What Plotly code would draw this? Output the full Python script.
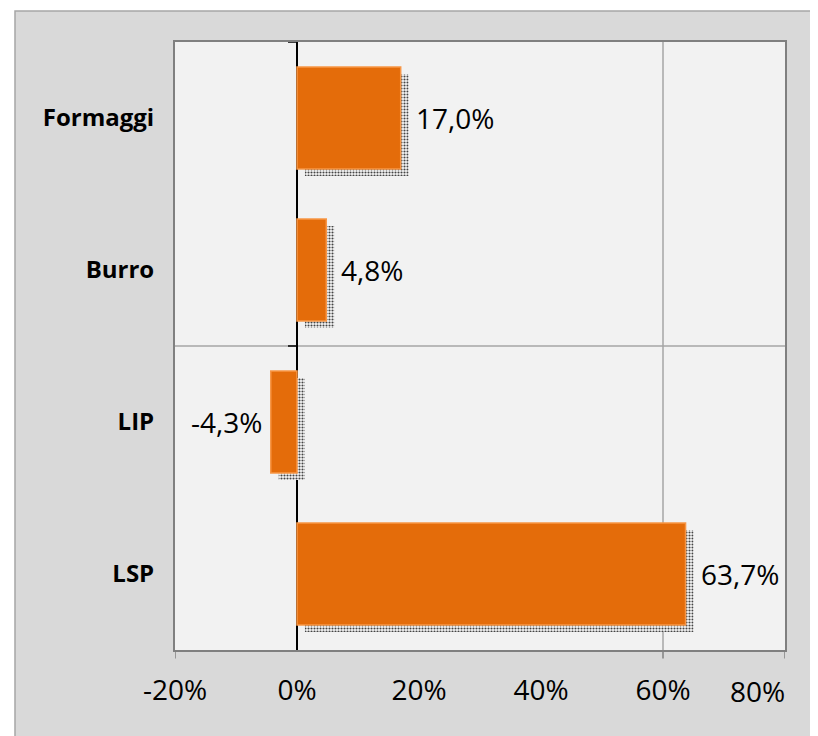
import plotly.graph_objects as go

categories = ["LSP", "LIP", "Burro", "Formaggi"]
values = [63.7, -4.3, 4.8, 17.0]
x_tick_vals = [-20, 0, 20, 40, 60, 80]
x_tick_text = ["-20%", "0%", "20%", "40%", "60%", "80%"]

positions = list(range(len(categories)))

BAR_COLOR = "#e46c0a"
BAR_LINE = "#f79646"
SHADOW_DX = 1.3     # shadow offset along x (data units, ~8 px)
SHADOW_DY = 0.046   # shadow offset along y (category units, ~7 px)
BAR_WIDTH = 0.67
TICK_FONT = dict(family="Open Sans", size=28, color="#000000")

fig = go.Figure()

# drop shadow
fig.add_trace(go.Bar(
    y=[p - SHADOW_DY for p in positions],
    x=values,
    base=[SHADOW_DX] * len(values),
    orientation="h",
    width=BAR_WIDTH,
    marker=dict(
        color="rgba(0,0,0,0)",
        line=dict(width=0),
        pattern=dict(shape=".", fgcolor="#444444", bgcolor="#f8f8f8",
                     size=3, solidity=0.4, fillmode="replace"),
    ),
    hoverinfo="skip",
    showlegend=False,
))

# main bars
fig.add_trace(go.Bar(
    y=positions,
    x=values,
    orientation="h",
    width=BAR_WIDTH,
    marker=dict(color=BAR_COLOR, line=dict(color=BAR_LINE, width=1.5)),
    showlegend=False,
))

# value labels
for p, v in zip(positions, values):
    txt = f"{v:.1f}%".replace(".", ",")
    fig.add_annotation(
        x=v, y=p, xref="x", yref="y", text=txt, showarrow=False,
        xanchor="left" if v >= 0 else "right",
        xshift=13 if v >= 0 else -7,
        font=TICK_FONT,
    )

# x tick labels (last one kept inside the chart area, as in the original)
shown_vals = x_tick_vals[:-1]
shown_text = x_tick_text[:-1]
fig.add_annotation(
    x=x_tick_vals[-1], y=0, xref="x", yref="paper", text=x_tick_text[-1],
    showarrow=False, xanchor="right", yanchor="top", xshift=2, yshift=-20,
    font=TICK_FONT,
)

shapes = []
# outer chart area
shapes.append(dict(type="rect", xref="paper", yref="paper",
                   x0=-0.2623, x1=1.2, y0=-0.3, y1=1.051,
                   fillcolor="#d9d9d9", line=dict(color="#a6a6a6", width=1.5),
                   layer="below"))
# plot area background
shapes.append(dict(type="rect", xref="paper", yref="paper",
                   x0=0, x1=1, y0=0, y1=1,
                   fillcolor="#f2f2f2", line=dict(width=0), layer="below"))
# vertical gridline at 60%
shapes.append(dict(type="line", xref="x", yref="paper", x0=60, x1=60, y0=0, y1=1,
                   line=dict(color="#a6a6a6", width=1.5), layer="below"))
# horizontal gridline between categories
shapes.append(dict(type="line", xref="paper", yref="y", x0=0, x1=1, y0=1.5, y1=1.5,
                   line=dict(color="#a6a6a6", width=1.5), layer="below"))
# x tick marks
for tv in [-20, 60, 80]:
    shapes.append(dict(type="line", xref="x", yref="paper", x0=tv, x1=tv,
                       y0=0, y1=-0.014, line=dict(color="#808080", width=1.5)))
# y tick marks on zero line
for yv in [1.5, 3.5]:
    shapes.append(dict(type="line", xref="x", yref="y", xsizemode="pixel", xanchor=0,
                       x0=-9, x1=0, y0=yv, y1=yv, line=dict(color="#000000", width=1.5)))

fig.update_layout(
    width=818, height=736,
    margin=dict(l=167, r=41, t=34, b=94),
    paper_bgcolor="#ffffff",
    plot_bgcolor="rgba(0,0,0,0)",
    barmode="overlay",
    shapes=shapes,
    xaxis=dict(
        range=[-20, 80],
        tickvals=shown_vals, ticktext=shown_text,
        showgrid=False,
        zeroline=True, zerolinecolor="#000000", zerolinewidth=2,
        showline=True, mirror=True, linecolor="#808080", linewidth=2,
        ticks="", ticklabelstandoff=14,
        tickfont=TICK_FONT,
    ),
    yaxis=dict(
        range=[-0.5, 3.5],
        tickvals=positions, ticktext=categories,
        showgrid=False, zeroline=False,
        showline=True, mirror=True, linecolor="#808080", linewidth=2,
        ticks="", ticklabelstandoff=14,
        tickfont=dict(family="Open Sans", size=24, color="#000000", weight="bold"),
    ),
)

fig.write_html("out.html")
